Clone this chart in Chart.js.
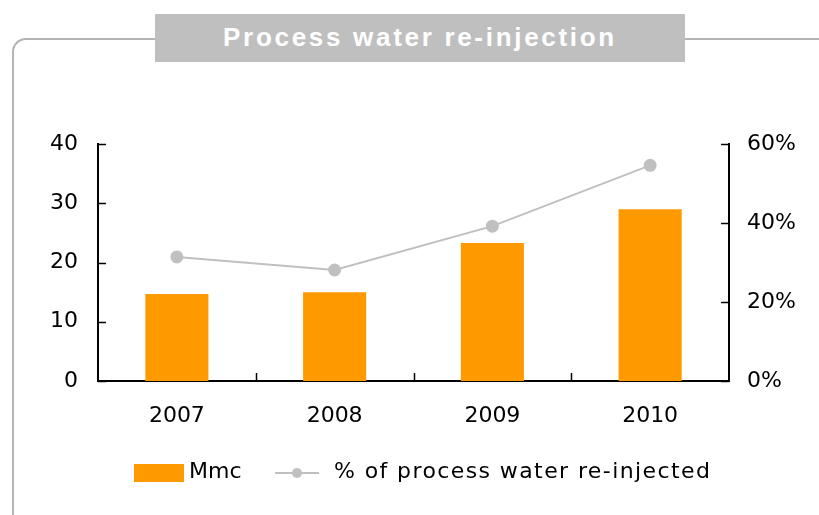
<!DOCTYPE html>
<html>
<head>
<meta charset="utf-8">
<script src="https://cdn.jsdelivr.net/npm/chart.js@4"></script>
<style>
  body { margin: 0; background: #fff; }
  #wrap { position: relative; width: 819px; height: 515px; overflow: hidden; font-family: "DejaVu Sans", sans-serif; }
  #frame { position: absolute; left: 12px; top: 38px; width: 830px; height: 500px;
           border-top: 2px solid #b4b4b4; border-left: 2px solid #b4b4b4; border-top-left-radius: 14px; }
  #title { position: absolute; left: 155px; top: 14px; width: 530px; height: 48px; background: #bfbfbf;
           color: #fff; font-family: "Liberation Sans", Arial, sans-serif; font-weight: bold; font-size: 26px;
           letter-spacing: 2.7px; line-height: 46px; text-align: center; }
  #chart { position: absolute; left: 0; top: 0; }
  #legend { position: absolute; top: 458px; left: 0; width: 819px; height: 28px; font-size: 22px; color: #000; }
  .sw { position: absolute; left: 134px; top: 6px; width: 50px; height: 18px; background: #ff9900; }
  .t1 { position: absolute; left: 189px; top: 0; }
  .ln { position: absolute; left: 275px; top: 14px; width: 44px; height: 2px; background: #c0c0c0; }
  .dot { position: absolute; left: 292px; top: 10px; width: 10px; height: 10px; border-radius: 50%; background: #c0c0c0; }
  .t2 { position: absolute; left: 334px; top: 0; letter-spacing: 1.4px; }
</style>
</head>
<body>
<div id="wrap">
  <div id="frame"></div>
  <div id="title">Process water re-injection</div>
  <canvas id="chart" width="819" height="515"></canvas>
  <div id="legend">
    <div class="sw"></div><div class="t1">Mmc</div>
    <div class="ln"></div><div class="dot"></div><div class="t2">% of process water re-injected</div>
  </div>
</div>
<script>
const years = ['2007', '2008', '2009', '2010'];
const mmc = [14.7, 15.0, 23.3, 29.0];
const pctReinjected = [31.4, 28.1, 39.2, 54.6];

// small inner tick marks, like the original axes
const innerTicks = {
  id: 'innerTicks',
  afterDraw(chart) {
    const ctx = chart.ctx;
    const area = chart.chartArea;
    ctx.save();
    ctx.strokeStyle = '#000';
    ctx.lineWidth = 1.5;
    const y = chart.scales.y, y1 = chart.scales.y1, x = chart.scales.x;
    y.ticks.forEach((t, i) => {
      const py = Math.round(y.getPixelForTick(i)) + 0.5;
      ctx.beginPath(); ctx.moveTo(area.left, py); ctx.lineTo(area.left + 8, py); ctx.stroke();
    });
    y1.ticks.forEach((t, i) => {
      const py = Math.round(y1.getPixelForTick(i)) + 0.5;
      ctx.beginPath(); ctx.moveTo(area.right - 8, py); ctx.lineTo(area.right, py); ctx.stroke();
    });
    for (let i = 1; i < years.length; i++) {
      const px = Math.round((x.getPixelForTick(i - 1) + x.getPixelForTick(i)) / 2) + 0.5;
      ctx.beginPath(); ctx.moveTo(px, area.bottom); ctx.lineTo(px, area.bottom - 8); ctx.stroke();
    }
    ctx.restore();
  }
};

const tickFont = { family: 'DejaVu Sans', size: 22 };

new Chart(document.getElementById('chart'), {
  data: {
    labels: years,
    datasets: [
      {
        type: 'line',
        label: '% of process water re-injected',
        data: pctReinjected,
        yAxisID: 'y1',
        borderColor: '#c0c0c0',
        backgroundColor: '#c0c0c0',
        borderWidth: 2,
        pointRadius: 5.5,
        pointHoverRadius: 5.5,
        tension: 0,
        order: 0
      },
      {
        type: 'bar',
        label: 'Mmc',
        data: mmc,
        yAxisID: 'y',
        backgroundColor: '#ff9900',
        barPercentage: 0.4,
        categoryPercentage: 1.0,
        order: 1
      }
    ]
  },
  options: {
    responsive: false,
    animation: false,
    layout: { padding: { top: 144, left: 0, right: 0, bottom: 0 } },
    plugins: { legend: { display: false }, tooltip: { enabled: false } },
    scales: {
      x: {
        offset: true,
        grid: { display: false },
        border: { color: '#000', width: 2 },
        ticks: { color: '#000', font: tickFont, padding: 14 },
        afterFit(s) { s.height = 134; }
      },
      y: {
        position: 'left',
        min: 0, max: 40,
        ticks: { stepSize: 10, color: '#000', font: tickFont, padding: 12 },
        grid: { display: false },
        border: { color: '#000', width: 2 },
        afterFit(s) { s.width = 98; }
      },
      y1: {
        position: 'right',
        min: 0, max: 60,
        ticks: { stepSize: 20, color: '#000', font: tickFont, padding: 10,
                 callback: v => v + '%' },
        grid: { display: false },
        border: { color: '#000', width: 2 },
        afterFit(s) { s.width = 90; }
      }
    }
  },
  plugins: [innerTicks]
});
</script>
</body>
</html>
